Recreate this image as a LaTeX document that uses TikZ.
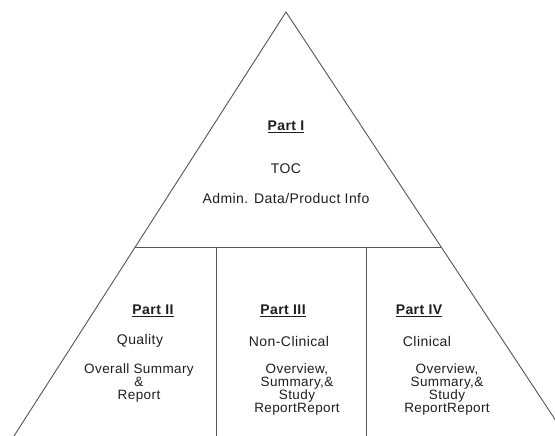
\documentclass[tikz,border=0pt]{standalone}
\usepackage{fontspec}
\setmainfont{Liberation Sans}[LetterSpace=3]
\usepackage{tikz}
\usetikzlibrary{positioning, calc}
\definecolor{colLine}{RGB}{85, 85, 85}
\definecolor{colText}{RGB}{30, 30, 30}

\begin{document}
\begin{tikzpicture}[x=1pt, y=-1pt,
    every node/.style={font=\fontsize{14}{16}\selectfont, text=colText, inner sep=0pt},
    head/.style={font=\fontsize{14}{16}\selectfont\bfseries},
    side/.style={draw=colLine, line width=0.9pt}]
    \clip (0,0) rectangle (555,436);

    % --- Triangle ---
    \coordinate (apex) at (286, 12);
    \coordinate (baseL) at (14, 436);
    \coordinate (baseR) at (566, 436);
    \coordinate (midL) at (135.2, 247);
    \coordinate (midR) at (441, 247);
    \draw[side] (baseL) -- (apex) -- (baseR);
    \draw[side] (midL) -- (midR);
    \draw[side] (216, 247) -- (216, 436); % divider
    \draw[side] (366, 247) -- (366, 436); % divider

    % --- Part I ---
    \node[head] (p1) at (286, 127) {\underline{Part I}};
    \node (toc) at (286, 169) {TOC};
    \node (admin) at (286, 198) {Admin. Data/Product Info};

    % --- Part II ---
    \node[head] (p2) at (153, 311) {\underline{Part II}};
    \node (qual) at (140, 341) {Quality};
    \node[align=center, font=\fontsize{13.5}{13}\selectfont] (sum2) at (139, 383)
        {Overall Summary\\\&\\Report};

    % --- Part III ---
    \node[head] (p3) at (283, 311) {\underline{Part III}};
    \node (ncl) at (289, 341) {Non-Clinical};
    \node[align=center, font=\fontsize{13.5}{13}\selectfont] (sum3) at (297, 389.5)
        {Overview,\\Summary,\&\\Study\\ReportReport};

    % --- Part IV ---
    \node[head] (p4) at (419, 311) {\underline{Part IV}};
    \node (cli) at (427, 341) {Clinical};
    \node[align=center, font=\fontsize{13.5}{13}\selectfont] (sum4) at (447, 389.5)
        {Overview,\\Summary,\&\\Study\\ReportReport};
\end{tikzpicture}
\end{document}
